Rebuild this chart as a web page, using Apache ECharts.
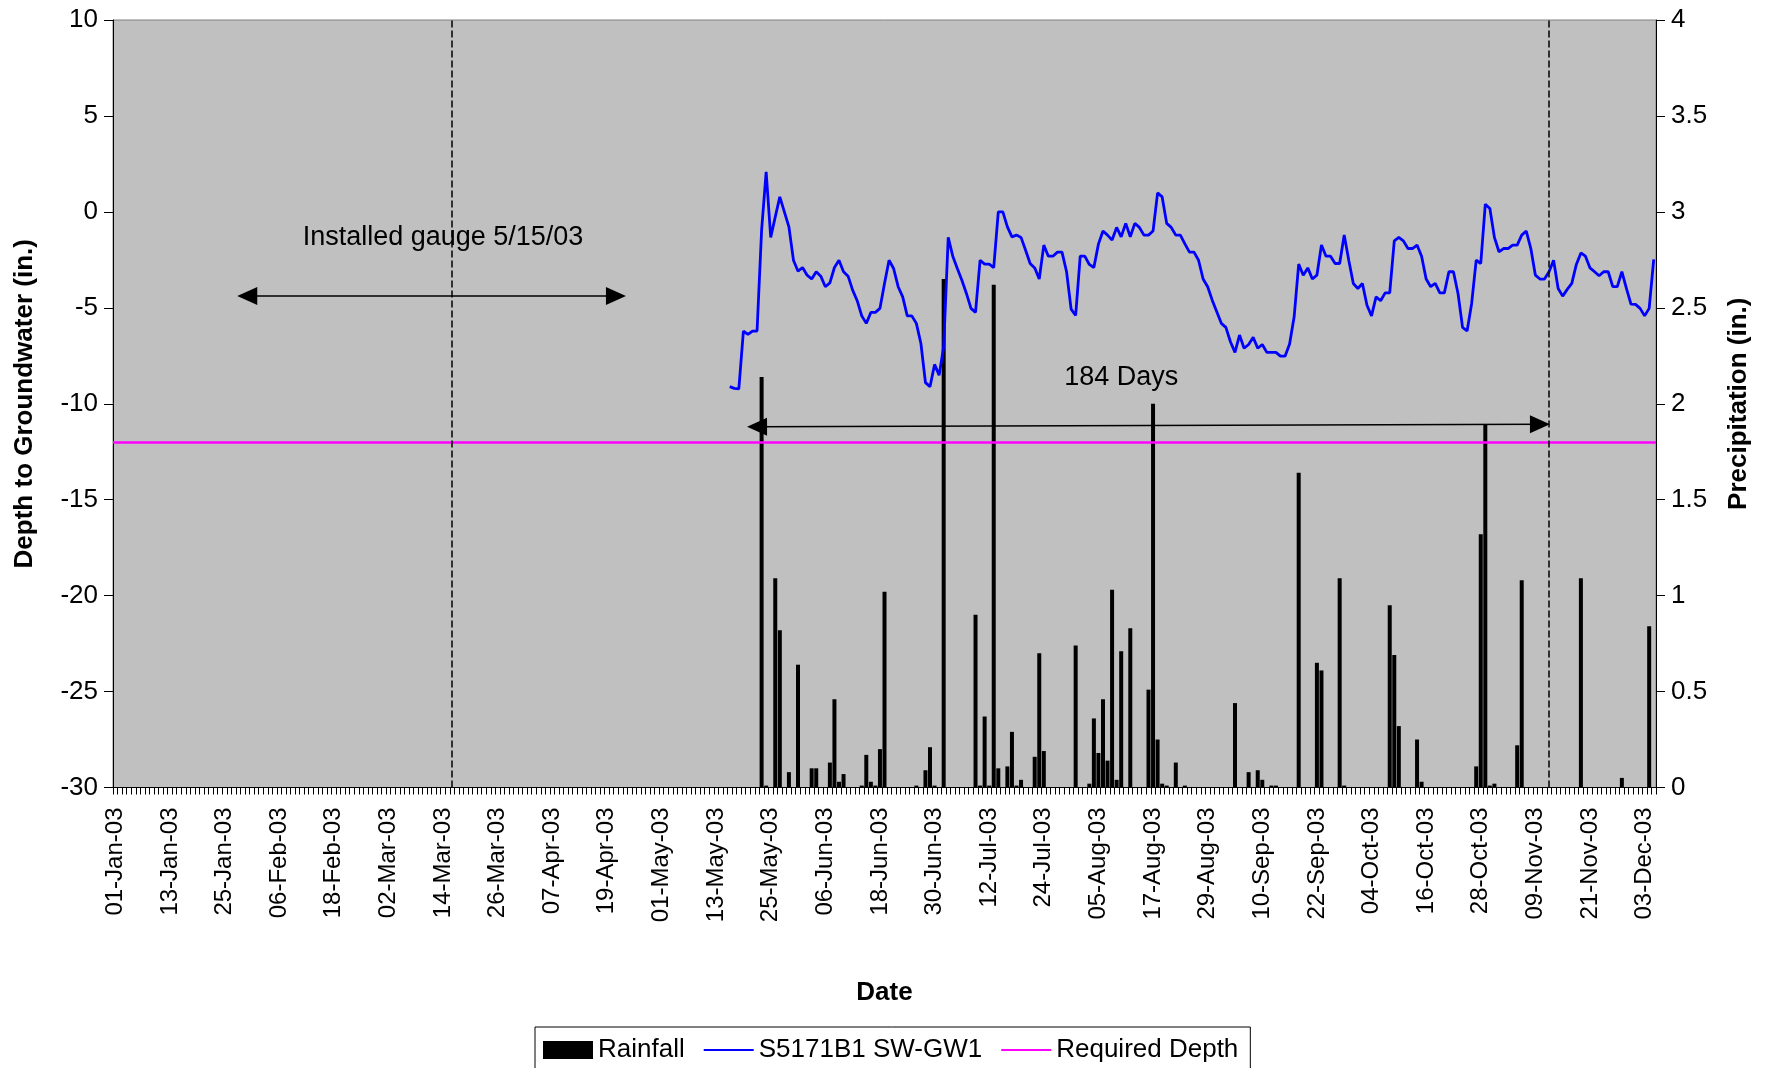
<!DOCTYPE html>
<html>
<head>
<meta charset="utf-8">
<script src="https://cdn.jsdelivr.net/npm/echarts@6/dist/echarts.min.js"></script>
<style>
  html, body { margin: 0; padding: 0; background: #fff; }
  #chart { width: 1769px; height: 1068px; }
</style>
</head>
<body>
<div id="chart"></div>
<script>
// one category per day, 01-Jan-03 .. 05-Dec-03
var startDay = Date.UTC(2003, 0, 1);
var dayCount = 339;
var monthNames = ['Jan', 'Feb', 'Mar', 'Apr', 'May', 'Jun', 'Jul', 'Aug', 'Sep', 'Oct', 'Nov', 'Dec'];

// groundwater depth (in.), one value per day starting at day 135 (16-May-03)
var depthStart = 135;
var depth = [
  -9.11, -9.2, -9.22, -6.21, -6.39, -6.21, -6.21, -0.95, 2.08, -1.33,
  -0.26, 0.78, 0.0, -0.78, -2.52, -3.09, -2.9, -3.3, -3.5, -3.12,
  -3.35, -3.9, -3.7, -2.9, -2.52, -3.12, -3.35, -4.08, -4.63, -5.42,
  -5.81, -5.24, -5.24, -5.03, -3.73, -2.52, -2.95, -3.9, -4.43, -5.42,
  -5.42, -5.81, -6.86, -8.9, -9.11, -7.95, -8.51, -7.03, -1.33, -2.31,
  -2.95, -3.56, -4.25, -5.03, -5.24, -2.52, -2.72, -2.72, -2.9, 0.0,
  0.0, -0.78, -1.3, -1.21, -1.33, -2.0, -2.69, -2.92, -3.5, -1.73,
  -2.31, -2.31, -2.1, -2.1, -3.12, -5.07, -5.4, -2.31, -2.31, -2.74,
  -2.9, -1.68, -1.0, -1.21, -1.47, -0.81, -1.3, -0.6, -1.3, -0.6,
  -0.81, -1.21, -1.21, -1.0, 0.99, 0.78, -0.6, -0.81, -1.21, -1.21,
  -1.67, -2.1, -2.1, -2.52, -3.5, -3.9, -4.6, -5.21, -5.81, -6.02,
  -6.77, -7.32, -6.42, -7.11, -6.91, -6.54, -7.11, -6.91, -7.32, -7.32,
  -7.32, -7.52, -7.52, -6.89, -5.47, -2.72, -3.3, -2.92, -3.5, -3.3,
  -1.73, -2.31, -2.31, -2.69, -2.69, -1.21, -2.52, -3.73, -3.99, -3.73,
  -4.87, -5.42, -4.43, -4.63, -4.22, -4.22, -1.51, -1.33, -1.51, -1.91,
  -1.91, -1.73, -2.31, -3.5, -3.9, -3.73, -4.22, -4.22, -3.12, -3.12,
  -4.25, -6.02, -6.21, -4.77, -2.52, -2.69, 0.4, 0.18, -1.33, -2.08,
  -1.91, -1.91, -1.73, -1.73, -1.21, -1.0, -1.91, -3.3, -3.5, -3.5,
  -3.12, -2.52, -3.99, -4.39, -4.04, -3.73, -2.74, -2.14, -2.31, -2.92,
  -3.12, -3.33, -3.12, -3.12, -3.9, -3.9, -3.12, -3.99, -4.81, -4.82,
  -5.03, -5.42, -5.03, -2.48
];

// rainfall (in.) as [day index, inches]
var rainfall = [
  [142, 2.14], [143, 0.01], [145, 1.09], [146, 0.82], [148, 0.08], [150, 0.64],
  [153, 0.10], [154, 0.10], [157, 0.13], [158, 0.46], [159, 0.03], [160, 0.07],
  [164, 0.01], [165, 0.17], [166, 0.03], [167, 0.01], [168, 0.20], [169, 1.02],
  [176, 0.01], [178, 0.09], [179, 0.21], [180, 0.01], [182, 2.65], [189, 0.90],
  [190, 0.01], [191, 0.37], [192, 0.01], [193, 2.62], [194, 0.10], [196, 0.11],
  [197, 0.29], [198, 0.01], [199, 0.04], [202, 0.16], [203, 0.70], [204, 0.19],
  [211, 0.74], [214, 0.02], [215, 0.36], [216, 0.18], [217, 0.46], [218, 0.14],
  [219, 1.03], [220, 0.04], [221, 0.71], [223, 0.83], [227, 0.51], [228, 2.00],
  [229, 0.25], [230, 0.02], [231, 0.01], [233, 0.13], [235, 0.01], [246, 0.44],
  [249, 0.08], [251, 0.09], [252, 0.04], [254, 0.01], [255, 0.01], [260, 1.64],
  [264, 0.65], [265, 0.61], [269, 1.09], [270, 0.01], [280, 0.95], [281, 0.69],
  [282, 0.32], [286, 0.25], [287, 0.03], [299, 0.11], [300, 1.32], [301, 1.89],
  [302, 0.01], [303, 0.02], [308, 0.22], [309, 1.08], [322, 1.09], [331, 0.05],
  [337, 0.84]
];

var requiredDepth = -12;

// annotations: dashed day markers, arrows and their captions
var dayMarkers = [74, 315];
var gaugeArrow = [[29, -4.39], [110, -4.39]];
var periodArrow = [[141, -11.2], [313, -11.07]];
var captions = [
  ['Installed gauge 5/15/03', 72, -1.32],
  ['184 Days', 221, -8.66]
];

var FONT = 'Liberation Sans, Arial, sans-serif';

function pad(n) { return n < 10 ? '0' + n : '' + n; }

var dates = [];
for (var i = 0; i < dayCount; i++) {
  var d = new Date(startDay + i * 86400000);
  dates.push(pad(d.getUTCDate()) + '-' + monthNames[d.getUTCMonth()] + '-03');
}

var depthData = [];
for (var i = 0; i < dayCount; i++) {
  var j = i - depthStart;
  depthData.push(j >= 0 && j < depth.length ? depth[j] : null);
}

var rainData = [];
for (var i = 0; i < dayCount; i++) rainData.push(null);
rainfall.forEach(function (r) { rainData[r[0]] = r[1]; });

var hiddenDot = { color: 'rgba(0,0,0,0)', borderWidth: 0 };

var myChart = echarts.init(document.getElementById('chart'));

myChart.setOption({
  backgroundColor: '#ffffff',
  animation: false,
  textStyle: { fontFamily: FONT },
  grid: {
    left: 113, right: 113, top: 20, bottom: 280.5,
    show: true,
    backgroundColor: '#c0c0c0',
    borderColor: '#808080',
    borderWidth: 1
  },
  legend: {
    data: [
      { name: 'Rainfall', icon: 'rect' },
      { name: 'S5171B1 SW-GW1', itemStyle: hiddenDot },
      { name: 'Required Depth', itemStyle: hiddenDot }
    ],
    left: 535,
    top: 1027,
    padding: [10, 12, 10, 8],
    itemGap: 18,
    itemWidth: 50,
    itemHeight: 18,
    backgroundColor: '#ffffff',
    borderColor: '#000000',
    borderWidth: 1,
    borderRadius: 0,
    textStyle: { color: '#000', fontSize: 26, fontFamily: FONT }
  },
  xAxis: {
    type: 'category',
    data: dates,
    boundaryGap: true,
    name: 'Date',
    nameLocation: 'middle',
    nameGap: 192,
    nameTextStyle: { color: '#000', fontSize: 26, fontWeight: 'bold', fontFamily: FONT },
    axisLine: { onZero: false, lineStyle: { color: '#000', width: 1 } },
    axisTick: { show: true, interval: 0, length: 7, lineStyle: { color: '#000', width: 1 } },
    axisLabel: {
      interval: 11,
      rotate: 90,
      margin: 20,
      color: '#000',
      fontSize: 24,
      fontFamily: FONT
    },
    splitLine: { show: false }
  },
  yAxis: [
    {
      type: 'value',
      min: -30, max: 10, interval: 5,
      name: 'Depth to Groundwater (in.)',
      nameLocation: 'middle',
      nameRotate: 90,
      nameGap: 75,
      nameTextStyle: { color: '#000', fontSize: 26, fontWeight: 'bold', fontFamily: FONT },
      axisLine: { show: true, lineStyle: { color: '#000', width: 1 } },
      axisTick: { show: true, length: 9, lineStyle: { color: '#000' } },
      axisLabel: { color: '#000', fontSize: 26, margin: 15, fontFamily: FONT },
      splitLine: { show: false }
    },
    {
      type: 'value',
      min: 0, max: 4, interval: 0.5,
      position: 'right',
      name: 'Precipitation (in.)',
      nameLocation: 'middle',
      nameRotate: 90,
      nameGap: 70,
      nameTextStyle: { color: '#000', fontSize: 26, fontWeight: 'bold', fontFamily: FONT },
      axisLine: { show: true, lineStyle: { color: '#000', width: 1 } },
      axisTick: { show: true, length: 9, lineStyle: { color: '#000' } },
      axisLabel: { color: '#000', fontSize: 26, margin: 15, fontFamily: FONT },
      splitLine: { show: false }
    }
  ],
  series: [
    {
      name: 'Rainfall',
      type: 'bar',
      yAxisIndex: 1,
      data: rainData,
      barWidth: 4,
      itemStyle: { color: '#000000' },
      z: 2
    },
    {
      name: 'S5171B1 SW-GW1',
      type: 'line',
      data: depthData,
      symbol: 'none',
      connectNulls: false,
      lineStyle: { color: '#0000ff', width: 2.8 },
      itemStyle: { color: '#0000ff' },
      z: 4
    },
    {
      name: 'Required Depth',
      type: 'line',
      data: [],
      symbol: 'none',
      lineStyle: { color: '#ff00ff', width: 2.5 },
      itemStyle: { color: '#ff00ff' },
      z: 3,
      markLine: {
        silent: true,
        symbol: ['none', 'none'],
        label: { show: false },
        lineStyle: { color: '#ff00ff', width: 2.5, type: 'solid' },
        data: [{ yAxis: requiredDepth }]
      }
    },
    {
      name: 'markers',
      type: 'line',
      data: [],
      symbol: 'none',
      z: 5,
      markLine: {
        silent: true,
        symbol: ['none', 'none'],
        label: { show: false },
        lineStyle: { color: '#000', width: 1.5, type: [7, 3] },
        data: dayMarkers.map(function (k) { return { xAxis: k }; })
      }
    },
    {
      name: 'notes',
      type: 'line',
      data: [],
      symbol: 'none',
      z: 5,
      markLine: {
        silent: true,
        symbol: ['triangle', 'triangle'],
        symbolSize: [18, 20],
        label: { show: false },
        lineStyle: { color: '#000', width: 1.5, type: 'solid' },
        data: [
          [{ coord: gaugeArrow[0] }, { coord: gaugeArrow[1] }],
          [{ coord: periodArrow[0] }, { coord: periodArrow[1] }]
        ]
      },
      markPoint: {
        silent: true,
        symbol: 'circle',
        symbolSize: 1,
        itemStyle: { color: 'rgba(0,0,0,0)' },
        label: {
          show: true,
          position: 'inside',
          formatter: '{b}',
          color: '#000',
          fontSize: 27,
          fontFamily: FONT
        },
        data: captions.map(function (c) {
          return { name: c[0], coord: [c[1], c[2]] };
        })
      }
    }
  ]
});
</script>
</body>
</html>
